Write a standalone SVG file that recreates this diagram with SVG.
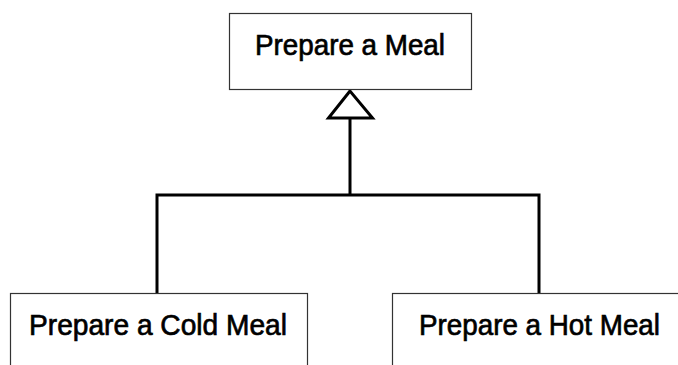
<svg xmlns="http://www.w3.org/2000/svg" width="678" height="365" viewBox="0 0 678 365">
<style>
.box{fill:#fff;stroke:#333;stroke-width:1.2}
.lbl{font-family:"Liberation Sans",Arial,sans-serif;font-size:30px;fill:#000;text-anchor:start;stroke:#000;stroke-width:0.7}
.con{fill:none;stroke:#000;stroke-width:3}
</style>
<rect width="678" height="365" fill="#fff"/>
<g id="connectors">
<polyline class="con" points="157,293 157,195 539,195 539,293"/>
<line class="con" x1="350" y1="195" x2="350" y2="118"/>
<polygon points="350,91 328.5,118 372.5,118" fill="#fff" stroke="#000" stroke-width="3"/>
</g>
<g id="meal">
<rect class="box" x="229.5" y="13.5" width="242" height="76"/>
<text class="lbl" x="255" y="55" textLength="190" lengthAdjust="spacingAndGlyphs">Prepare a Meal</text>
</g>
<g id="cold">
<rect class="box" x="10.5" y="293.5" width="297" height="80"/>
<text class="lbl" x="29" y="335" textLength="258" lengthAdjust="spacingAndGlyphs">Prepare a Cold Meal</text>
</g>
<g id="hot">
<rect class="box" x="392.5" y="293.5" width="300" height="80"/>
<text class="lbl" x="419" y="335" textLength="241" lengthAdjust="spacingAndGlyphs">Prepare a Hot Meal</text>
</g>
</svg>
